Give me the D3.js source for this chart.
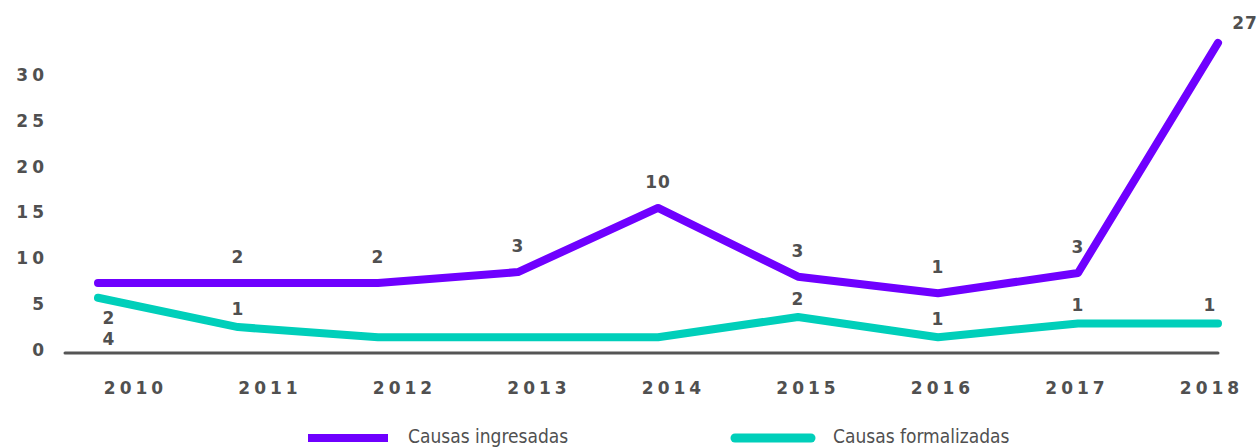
<!DOCTYPE html>
<html>
<head>
<meta charset="utf-8">
<script src="https://cdn.jsdelivr.net/npm/d3@7"></script>
<style>
  html, body { margin:0; padding:0; background:#fff; }
  svg text { fill:#505050; }
  .tick-lbl { font-family:"DejaVu Sans", sans-serif; font-weight:bold; }
  .legend-lbl { font-family:"DejaVu Sans Condensed", "DejaVu Sans", sans-serif; font-size:19px; }
</style>
</head>
<body>
<svg id="chart" width="1257" height="448"></svg>
<script>
// data
const years = ["2010","2011","2012","2013","2014","2015","2016","2017","2018"];
const ingresadas = [7.3, 7.3, 7.3, 8.5, 15.5, 8.0, 6.2, 8.4, 33.5];
const formalizadas = [5.7, 2.5, 1.4, 1.4, 1.4, 3.6, 1.4, 2.9, 2.9];
const ingresadasLabels = ["2","2","2","3","10","3","1","3","27"];
const formalizadasLabels = ["4","1","","","","2","1","1","1"];
const yTicks = [0, 5, 10, 15, 20, 25, 30];
const seriesNames = ["Causas ingresadas", "Causas formalizadas"];

const purple = "#6f00ff", teal = "#00cfba", grey = "#555";
const svg = d3.select("#chart");

const x = d3.scalePoint().domain(years).range([98, 1218]);       // line points
const xLbl = d3.scalePoint().domain(years).range([133, 1209]);   // year labels
const y = d3.scaleLinear().domain([0, 30]).range([350, 75]);

// y axis labels
const yAxis = svg.append("g").attr("transform", "translate(48,0)")
  .call(d3.axisLeft(y).tickValues(yTicks).tickSize(0).tickPadding(0));
yAxis.select(".domain").remove();
yAxis.selectAll("text").attr("class","tick-lbl").attr("font-size",17)
  .style("letter-spacing","4px");

// baseline
svg.append("line").attr("x1",65).attr("x2",1218).attr("y1",y(0)+3).attr("y2",y(0)+3)
  .attr("stroke",grey).attr("stroke-width",3).attr("stroke-linecap","round");

// x axis labels
const xAxis = svg.append("g").attr("transform", "translate(2,382)")
  .call(d3.axisBottom(xLbl).tickSize(0).tickPadding(0));
xAxis.select(".domain").remove();
xAxis.selectAll("text").attr("class","tick-lbl").attr("font-size",17)
  .style("letter-spacing","4px");

// lines
const line = d3.line().x((d,i)=> x(years[i])).y(d=> y(d));
svg.append("path").datum(formalizadas).attr("d", line).attr("fill","none")
  .attr("stroke",teal).attr("stroke-width",8).attr("stroke-linecap","round").attr("stroke-linejoin","round");
svg.append("path").datum(ingresadas).attr("d", line).attr("fill","none")
  .attr("stroke",purple).attr("stroke-width",8).attr("stroke-linecap","round").attr("stroke-linejoin","round");

// data labels
const lbl = svg.append("g").attr("class","tick-lbl").attr("font-size",17)
  .attr("text-anchor","middle").style("letter-spacing","1px");
years.forEach((yr, i)=>{
  let px = x(yr), pi = y(ingresadas[i]), pf = y(formalizadas[i]);
  let ix = px, iy = pi - 26, fx = px, fy = pf - 18;
  if (i === 0){ ix = fx = px + 11; iy = pf + 20; fy = pf + 41; }
  if (i === years.length - 1){ ix = px + 27; iy = pi - 20; fx = px - 8; }
  if (ingresadasLabels[i]) lbl.append("text").attr("x",ix).attr("y",iy).attr("dy","0.35em").text(ingresadasLabels[i]);
  if (formalizadasLabels[i]) lbl.append("text").attr("x",fx).attr("y",fy).attr("dy","0.35em").text(formalizadasLabels[i]);
});

// legend
const leg = svg.append("g");
leg.append("rect").attr("x",308).attr("y",434).attr("width",80).attr("height",8).attr("fill",purple);
leg.append("text").attr("class","legend-lbl").attr("x",408).attr("y",443).text(seriesNames[0]);
leg.append("line").attr("x1",735).attr("x2",811).attr("y1",438).attr("y2",438)
  .attr("stroke",teal).attr("stroke-width",9).attr("stroke-linecap","round");
leg.append("text").attr("class","legend-lbl").attr("x",833).attr("y",443).text(seriesNames[1]);
</script>
</body>
</html>
